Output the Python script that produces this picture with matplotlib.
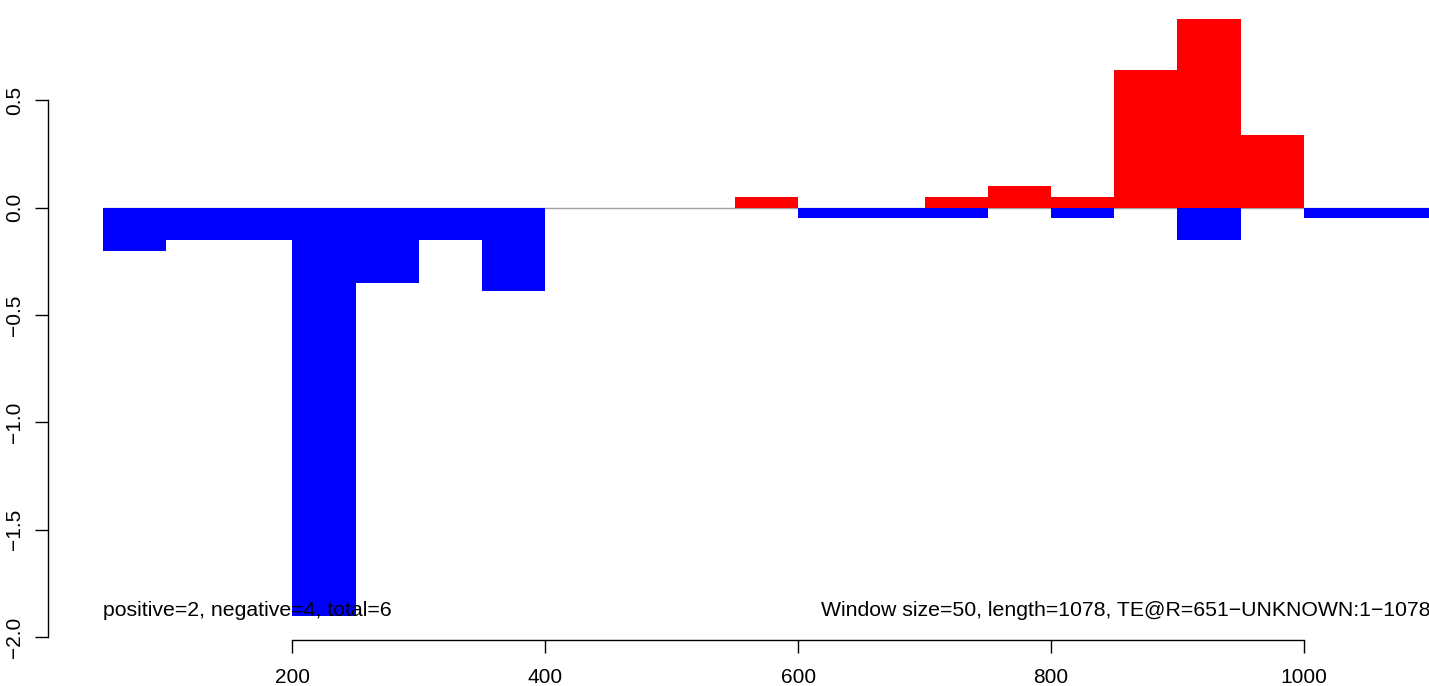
import matplotlib
matplotlib.use('Agg')
import matplotlib.pyplot as plt

plt.rcParams['font.family'] = ['Liberation Sans', 'DejaVu Sans']

# window starts (window size 50)
window_start = [50, 100, 150, 200, 250, 300, 350, 400, 450, 500, 550,
                600, 650, 700, 750, 800, 850, 900, 950, 1000, 1050]
positive = [0, 0, 0, 0, 0, 0, 0, 0, 0, 0, 0.05,
            0, 0, 0.05, 0.10, 0.05, 0.64, 0.88, 0.34, 0, 0]
negative = [-0.20, -0.15, -0.15, -1.90, -0.35, -0.15, -0.39, 0, 0, 0, 0,
            -0.05, -0.05, -0.05, 0, -0.05, 0, -0.15, 0, -0.05, -0.05]
window_size = 50

x_ticks = [200, 400, 600, 800, 1000]
y_ticks = [-2.0, -1.5, -1.0, -0.5, 0.0, 0.5]
y_labels = ['\u22122.0', '\u22121.5', '\u22121.0', '\u22120.5', '0.0', '0.5']

left_note = 'positive=2, negative=4, total=6'
right_note = 'Window size=50, length=1078, TE@R=651\u2212UNKNOWN:1\u22121078'

fig = plt.figure(figsize=(14.29, 6.86), dpi=100)
ax = fig.add_axes([48 / 1429, 46 / 686, 1 - 48 / 1429, 640 / 686])

# zero line across the windows
ax.hlines(0, window_start[0], window_start[-1] + window_size,
          color='#a0a0a0', lw=1.0, zorder=1)

ax.bar(window_start, positive, width=window_size, align='edge',
       color='#ff0000', linewidth=0, zorder=2)
ax.bar(window_start, negative, width=window_size, align='edge',
       color='#0000ff', linewidth=0, zorder=2)

ax.set_xlim(6.8, 1098.9)
ax.set_ylim(-2.0135, 0.967)

for s in ['top', 'right']:
    ax.spines[s].set_visible(False)
ax.spines['left'].set_bounds(-2.0, 0.5)
ax.spines['bottom'].set_bounds(200, 1000)
ax.spines['left'].set_linewidth(1.0)
ax.spines['bottom'].set_linewidth(1.0)

ax.set_xticks(x_ticks)
ax.set_xticklabels([str(t) for t in x_ticks])
ax.set_yticks(y_ticks)
ax.set_yticklabels(y_labels, rotation=90, va='center')
ax.tick_params(axis='x', length=9.5, width=1.0, labelsize=15, pad=11)
ax.tick_params(axis='y', length=9.5, width=1.0, labelsize=15, pad=8)

ax.text(50, -1.9, left_note, ha='left', va='baseline', fontsize=15.3)
ax.text(618, -1.9, right_note, ha='left', va='baseline', fontsize=15.3,
        clip_on=False)

fig.savefig('out.png', dpi=100)
